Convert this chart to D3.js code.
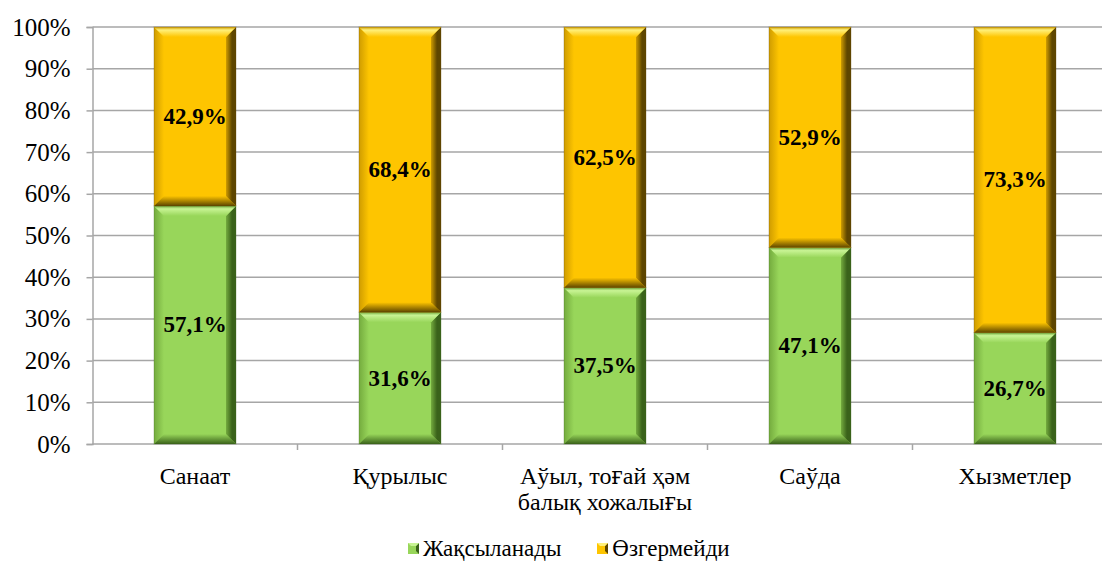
<!DOCTYPE html>
<html>
<head>
<meta charset="utf-8">
<script src="https://cdn.jsdelivr.net/npm/d3@7"></script>
<style>
  body { margin: 0; background: #fff; }
  svg { display: block; overflow: hidden; }
  svg text { font-family: "Liberation Serif", "Times New Roman", serif; }
  svg tspan.alt { font-family: "DejaVu Serif Condensed", "DejaVu Serif", serif; }
</style>
</head>
<body>
<div class="container"></div>
<script>
const width = 1102;
const height = 563;

const categories = ["Санаат", "Қурылыс", "Аўыл, тоғай ҳәм балық хожалығы", "Саўда", "Хызметлер"];
const catLines = [["Санаат"], ["Қурылыс"], ["Аўыл, тоғай ҳәм", "балық хожалығы"], ["Саўда"], ["Хызметлер"]];
const improving = [57.1, 31.6, 37.5, 47.1, 26.7];
const unchanged = [42.9, 68.4, 62.5, 52.9, 73.3];
const seriesNames = ["Жақсыланады", "Өзгермейди"];
const yTicks = [0, 10, 20, 30, 40, 50, 60, 70, 80, 90, 100];

const palette = [
  {id: "g", base: "#98d65a", light: "#c8f494", dark: "#3a621a", mid: "#74ab3e"},
  {id: "o", base: "#fec500", light: "#fff07a", dark: "#5e4600", mid: "#cf9c00"}
];

const rows = categories.map((c, i) => ({cat: c, s0: improving[i], s1: unchanged[i]}));
const stacked = d3.stack().keys(["s0", "s1"])(rows);

const x = d3.scaleBand().domain(categories).range([92.5, 1117.5]).padding(0);
const y = d3.scaleLinear().domain([0, 100]).range([444, 27]);
const barW = x.bandwidth() * 0.4;
const fmt = v => d3.format(".1f")(v).replace(".", ",") + "%";

// letters missing from Liberation Serif go into their own tspan
const missing = /[ӨөҒғ]/;
function fillText(sel, str) {
  const parts = str.split(/([ӨөҒғ])/).filter(s => s.length);
  parts.forEach(s => sel.append("tspan").attr("class", missing.test(s) ? "alt" : null).text(s));
}

const svg = d3.select(".container").append("svg")
    .attr("width", width)
    .attr("height", height);

// gradients for the bevel faces
const defs = svg.append("defs");
palette.forEach(p => {
  const top = defs.append("linearGradient").attr("id", "top-" + p.id).attr("x1", 0).attr("y1", 0).attr("x2", 0).attr("y2", 1);
  top.append("stop").attr("offset", 0).attr("stop-color", p.mid);
  top.append("stop").attr("offset", 0.3).attr("stop-color", p.light);
  top.append("stop").attr("offset", 1).attr("stop-color", p.base);
  const right = defs.append("linearGradient").attr("id", "right-" + p.id).attr("x1", 0).attr("y1", 0).attr("x2", 1).attr("y2", 0);
  right.append("stop").attr("offset", 0).attr("stop-color", p.mid);
  right.append("stop").attr("offset", 0.6).attr("stop-color", p.dark);
  right.append("stop").attr("offset", 1).attr("stop-color", p.dark);
  const bottom = defs.append("linearGradient").attr("id", "bottom-" + p.id).attr("x1", 0).attr("y1", 0).attr("x2", 0).attr("y2", 1);
  bottom.append("stop").attr("offset", 0).attr("stop-color", p.base);
  bottom.append("stop").attr("offset", 1).attr("stop-color", p.dark);
  const left = defs.append("linearGradient").attr("id", "left-" + p.id).attr("x1", 0).attr("y1", 0).attr("x2", 1).attr("y2", 0);
  left.append("stop").attr("offset", 0).attr("stop-color", p.mid);
  left.append("stop").attr("offset", 1).attr("stop-color", p.base);
});

// gridlines
svg.append("g")
  .selectAll("line")
  .data(yTicks.slice(1))
  .join("line")
    .attr("x1", 92.5).attr("x2", width)
    .attr("y1", d => y(d)).attr("y2", d => y(d))
    .attr("stroke", "#a6a6a6").attr("stroke-width", 1.5);

// y axis
const yAxis = svg.append("g")
    .attr("transform", "translate(92.5,0)")
    .call(d3.axisLeft(y).tickValues(yTicks).tickFormat(d => d + "%").tickSize(6).tickPadding(16));
yAxis.select(".domain").attr("stroke", "#a6a6a6").attr("stroke-width", 1.5);
yAxis.selectAll(".tick line").attr("stroke", "#a6a6a6").attr("stroke-width", 1.5);
yAxis.selectAll("text").attr("font-size", 25).attr("fill", "#000");

// x axis with ticks at band boundaries
const xAxis = svg.append("g").attr("transform", "translate(0,444)");
xAxis.append("line")
    .attr("x1", 92.5).attr("x2", width)
    .attr("stroke", "#a6a6a6").attr("stroke-width", 1.5);
xAxis.selectAll(".bt")
  .data(categories.slice(1))
  .join("line")
    .attr("class", "bt")
    .attr("x1", d => x(d)).attr("x2", d => x(d))
    .attr("y1", 0).attr("y2", 6)
    .attr("stroke", "#a6a6a6").attr("stroke-width", 1.5);
categories.forEach((c, i) => {
  catLines[i].forEach((line, j) => {
    const t = xAxis.append("text")
        .attr("text-anchor", "middle")
        .attr("font-size", 24)
        .attr("x", x(c) + x.bandwidth() / 2)
        .attr("y", 40 + j * 26);
    fillText(t, line);
  });
});

// beveled bars
const b = 10;
function bevel(g, bx, by, w, h, p) {
  g.append("rect").attr("x", bx).attr("y", by).attr("width", w).attr("height", h).attr("fill", p.base);
  const poly = (pts, fill) => g.append("polygon")
      .attr("points", pts.map(q => q.join(",")).join(" "))
      .attr("fill", fill);
  poly([[bx, by], [bx + b, by + b], [bx + b, by + h - b], [bx, by + h]], `url(#left-${p.id})`);
  poly([[bx, by + h], [bx + w, by + h], [bx + w - b, by + h - b], [bx + b, by + h - b]], `url(#bottom-${p.id})`);
  poly([[bx + w, by], [bx + w, by + h], [bx + w - b, by + h - b], [bx + w - b, by + b]], `url(#right-${p.id})`);
  poly([[bx, by], [bx + w, by], [bx + w - b, by + b], [bx + b, by + b]], `url(#top-${p.id})`);
  g.append("rect").attr("x", bx).attr("y", by).attr("width", w).attr("height", h)
      .attr("fill", "none").attr("stroke", p.dark).attr("stroke-opacity", 0.3).attr("stroke-width", 1);
}

const barsG = svg.append("g");
stacked.forEach((layer, si) => {
  layer.forEach((d, i) => {
    const cx = x(categories[i]) + x.bandwidth() / 2;
    const bx = cx - barW / 2;
    const y0 = y(d[1]), y1 = y(d[0]);
    bevel(barsG.append("g"), bx, y0, barW, y1 - y0, palette[si]);
  });
});

// value labels
stacked.forEach((layer, si) => {
  svg.append("g")
    .selectAll("text")
    .data(layer)
    .join("text")
      .attr("text-anchor", "middle")
      .attr("dominant-baseline", "central")
      .attr("font-size", 23)
      .attr("font-weight", "bold")
      .attr("x", (d, i) => x(categories[i]) + x.bandwidth() / 2)
      .attr("y", d => (y(d[0]) + y(d[1])) / 2)
      .text(d => fmt(d[1] - d[0]));
});

// legend
const legendX = [408, 597];
const legend = svg.append("g");
seriesNames.forEach((name, i) => {
  const g = legend.append("g");
  const p = palette[i];
  const lx = legendX[i];
  g.append("rect").attr("x", lx).attr("y", 543).attr("width", 11).attr("height", 11).attr("fill", p.base);
  g.append("polygon")
    .attr("points", `${lx + 11},543 ${lx + 11},554 ${lx + 8},551 ${lx + 8},546`)
    .attr("fill", p.dark);
  g.append("polygon")
    .attr("points", `${lx},543 ${lx + 11},543 ${lx + 8},546 ${lx + 3},546`)
    .attr("fill", p.light);
  const t = g.append("text")
    .attr("x", lx + 15)
    .attr("y", 556)
    .attr("font-size", 23);
  fillText(t, name);
});
</script>
</body>
</html>
